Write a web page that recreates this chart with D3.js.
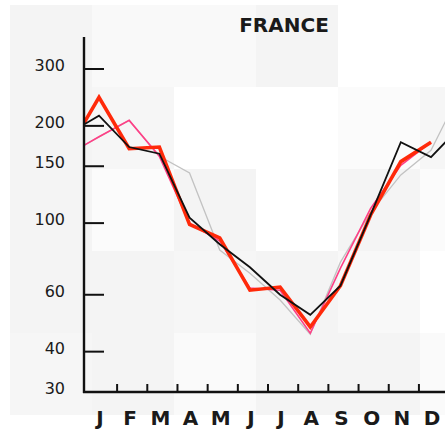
<!DOCTYPE html>
<html>
<head>
<meta charset="utf-8">
<script src="https://cdn.jsdelivr.net/npm/d3@7"></script>
<style>
  html, body { margin: 0; padding: 0; background: #fff; }
  svg { display: block; }
  text { font-family: "DejaVu Sans", sans-serif; fill: #1a1a1a; }
</style>
</head>
<body>
<svg id="plot" width="445" height="433"></svg>
<script>
// data
const months = ['J', 'F', 'M', 'A', 'M', 'J', 'J', 'A', 'S', 'O', 'N', 'D'];
const yTicks = [300, 200, 150, 100, 60, 40];
const yLabels = [300, 200, 150, 100, 60, 40, 30];

// value at the axis (start), twelve months, value after december (end, clipped)
const blackStart = 202;
const blackValues = [215, 172, 164, 104, 86, 73, 60, 52, 64, 106, 178, 160];
const blackEnd = 200;

const redStart = 204;
const redValues = [245, 170, 172, 99, 90, 62, 63.4, 47.7, 64, 106, 155, 178];

const pinkStart = 174;
const pinkValues = [185, 208, 161, 100, 88, 63, 62, 45.6, 72.5, 111, 151, 178];

const grayStart = 174;
const grayValues = [185, 208, 161, 143, 82.5, 70, 57.8, 45.3, 75.7, 108, 141, 168];
const grayEnd = 258;

// faint background tiles of the scan
const tileShades = [
  ['#f4f4f4', '#f9f9f9', '#f9f9f9', '#f4f4f4', '#ffffff', '#ffffff'],
  ['#f4f4f4', '#f6f6f6', '#ffffff', '#ffffff', '#fbfbfb', '#f6f6f6'],
  ['#f4f4f4', '#fbfbfb', '#f4f4f4', '#ffffff', '#f4f4f4', '#fbfbfb'],
  ['#f4f4f4', '#f4f4f4', '#f6f6f6', '#f4f4f4', '#f8f8f8', '#ffffff'],
  ['#f6f6f6', '#f4f4f4', '#fafafa', '#f4f4f4', '#f4f4f4', '#fafafa']
];

const svg = d3.select('#plot');

const tile = 82;
tileShades.forEach((row, r) => {
  row.forEach((c, k) => {
    svg.append('rect')
      .attr('x', 10 + k * tile).attr('y', 5 + r * tile)
      .attr('width', tile).attr('height', tile)
      .attr('fill', c);
  });
});

const plotLeft = 84, plotRight = 445, plotTop = 37, plotBottom = 392;

const x = d3.scaleLinear().domain([0, 11]).range([99, 431]);
const y = d3.scaleLog().domain([30, 300]).range([plotBottom, 69]);

svg.append('defs').append('clipPath').attr('id', 'clip')
  .append('rect')
  .attr('x', plotLeft).attr('y', plotTop)
  .attr('width', plotRight - plotLeft).attr('height', plotBottom - plotTop);

function series(start, values, end) {
  const pts = [{ i: -0.5, v: start }];
  values.forEach((v, i) => pts.push({ i: i, v: v }));
  if (end != null) pts.push({ i: 12, v: end });
  return pts;
}

const line = d3.line().x(d => x(d.i)).y(d => y(d.v));

const lines = svg.append('g').attr('clip-path', 'url(#clip)');

lines.append('path')
  .datum(series(grayStart, grayValues, grayEnd))
  .attr('d', line).attr('fill', 'none')
  .attr('stroke', '#c2c2c2').attr('stroke-width', 1.3);

lines.append('path')
  .datum(series(pinkStart, pinkValues))
  .attr('d', line).attr('fill', 'none')
  .attr('stroke', '#ff3f86').attr('stroke-width', 1.6);

lines.append('path')
  .datum(series(redStart, redValues))
  .attr('d', line).attr('fill', 'none')
  .attr('stroke', '#ff2a0a').attr('stroke-width', 3.6)
  .attr('stroke-linejoin', 'miter');

lines.append('path')
  .datum(series(blackStart, blackValues, blackEnd))
  .attr('d', line).attr('fill', 'none')
  .attr('stroke', '#111').attr('stroke-width', 1.8);

// axes
const axes = svg.append('g').attr('stroke', '#111').attr('stroke-width', 2.4);
axes.append('line').attr('x1', plotLeft).attr('x2', plotLeft).attr('y1', plotTop).attr('y2', plotBottom + 1);
axes.append('line').attr('x1', plotLeft - 1).attr('x2', plotRight).attr('y1', plotBottom).attr('y2', plotBottom);

axes.selectAll('.ytick').data(yTicks).enter().append('line')
  .attr('x1', plotLeft).attr('x2', plotLeft + 20)
  .attr('y1', d => y(d)).attr('y2', d => y(d))
  .attr('stroke-width', 2);

axes.selectAll('.xtick').data(d3.range(11)).enter().append('line')
  .attr('x1', d => x(d + 0.6)).attr('x2', d => x(d + 0.6))
  .attr('y1', plotBottom).attr('y2', plotBottom - 8)
  .attr('stroke-width', 2);

svg.selectAll('.ylab').data(yLabels).enter().append('text')
  .attr('x', 65).attr('y', d => y(d) + 2)
  .attr('text-anchor', 'end')
  .style('font-size', '16px')
  .text(d => d);

svg.selectAll('.mlab').data(months).enter().append('text')
  .attr('x', (d, i) => x(i) + 1).attr('y', 425)
  .attr('text-anchor', 'middle')
  .style('font-size', '20px').style('font-weight', 'bold')
  .text(d => d);

svg.append('text')
  .attr('x', 284).attr('y', 32)
  .attr('text-anchor', 'middle')
  .style('font-size', '20px').style('font-weight', 'bold')
  .text('FRANCE');
</script>
</body>
</html>
